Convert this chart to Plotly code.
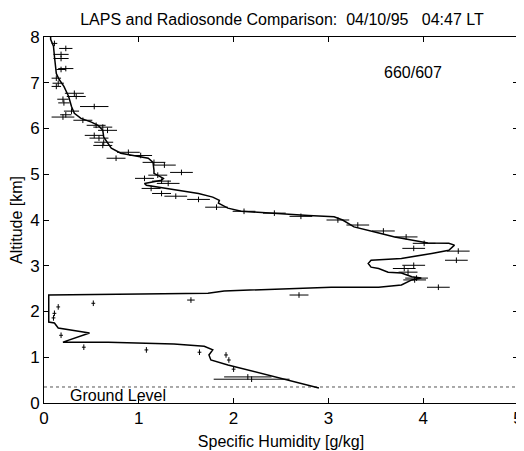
import plotly.graph_objects as go

# Radiosonde profile: specific humidity [g/kg] vs altitude [km]
rs_q = [2.90, 2.43, 1.94, 1.76, 1.74, 1.78, 1.69, 1.37, 0.68, 0.20, 0.48, 0.15, 0.11, 0.05, 0.05,
        1.02, 1.73, 1.90, 3.03, 3.53, 3.77, 3.88, 3.98, 3.88, 3.77, 3.63, 3.53, 3.45, 3.42, 3.45,
        3.77, 4.09, 4.27, 4.33, 4.27, 4.05, 3.88, 3.70, 3.49, 3.27, 3.15, 3.06, 2.79, 2.43, 2.08,
        1.94, 1.84, 1.85, 1.78, 1.63, 1.41, 1.20, 1.08, 1.06, 1.24, 1.26, 1.16, 1.16, 1.15, 1.10,
        0.95, 0.81, 0.71, 0.67, 0.63, 0.62, 0.57, 0.50, 0.39, 0.32, 0.29, 0.26, 0.21, 0.16, 0.13,
        0.11, 0.10, 0.07, 0.07]
rs_z = [0.33, 0.57, 0.83, 0.94, 1.05, 1.16, 1.24, 1.29, 1.33, 1.33, 1.53, 1.64, 1.75, 1.77, 2.36,
        2.38, 2.40, 2.45, 2.53, 2.53, 2.58, 2.69, 2.73, 2.76, 2.84, 2.86, 2.94, 2.97, 3.05, 3.12,
        3.16, 3.27, 3.34, 3.45, 3.49, 3.50, 3.56, 3.63, 3.74, 3.85, 4.00, 4.07, 4.10, 4.15, 4.19,
        4.26, 4.37, 4.43, 4.50, 4.58, 4.65, 4.72, 4.76, 4.80, 4.87, 4.91, 5.02, 5.09, 5.26, 5.35,
        5.41, 5.46, 5.57, 5.68, 5.81, 5.96, 6.07, 6.14, 6.22, 6.33, 6.48, 6.70, 6.92, 7.07, 7.20,
        7.58, 7.80, 7.95, 8.00]

# LAPS retrievals with horizontal uncertainty
laps_q = [0.11, 0.23, 0.18, 0.18, 0.23, 0.18, 0.13, 0.15, 0.13, 0.32, 0.34, 0.20, 0.21, 0.53,
          0.29, 0.23, 0.20, 0.41, 0.55, 0.62, 0.67, 0.53, 0.58, 0.63, 0.62, 0.89, 1.02, 0.76,
          1.16, 1.27, 1.45, 1.20, 1.06, 1.24, 1.31, 1.13, 1.24, 1.39, 1.63, 1.82, 2.11, 2.43,
          2.71, 3.10, 3.31, 3.58, 3.82, 4.01, 3.90, 4.37, 4.35, 3.90, 3.80, 3.84, 3.93, 4.16,
          3.91, 2.69, 1.55, 0.52, 0.15, 0.11, 0.10, 0.18, 0.42, 1.08, 1.64, 1.92, 1.95, 2.00,
          2.15, 2.19]
laps_z = [7.86, 7.75, 7.62, 7.53, 7.31, 7.29, 7.10, 6.99, 6.92, 6.77, 6.70, 6.64, 6.56, 6.48,
          6.38, 6.30, 6.25, 6.18, 6.07, 6.03, 5.96, 5.85, 5.79, 5.70, 5.63, 5.48, 5.41, 5.35,
          5.26, 5.20, 5.04, 4.98, 4.91, 4.85, 4.80, 4.69, 4.58, 4.52, 4.45, 4.28, 4.19, 4.15,
          4.08, 4.00, 3.89, 3.76, 3.63, 3.49, 3.38, 3.32, 3.12, 3.01, 2.94, 2.86, 2.73, 2.53,
          2.69, 2.36, 2.25, 2.18, 2.10, 1.96, 1.86, 1.48, 1.22, 1.16, 1.11, 1.05, 0.94, 0.74,
          0.57, 0.52]
laps_err = [0.03, 0.07, 0.08, 0.08, 0.08, 0.05, 0.05, 0.06, 0.05, 0.10, 0.10, 0.06, 0.06, 0.15,
            0.08, 0.06, 0.12, 0.10, 0.10, 0.10, 0.10, 0.10, 0.10, 0.10, 0.10, 0.12, 0.12, 0.10,
            0.12, 0.12, 0.12, 0.10, 0.10, 0.10, 0.12, 0.10, 0.10, 0.12, 0.12, 0.12, 0.12, 0.12,
            0.12, 0.12, 0.12, 0.12, 0.12, 0.12, 0.12, 0.12, 0.12, 0.12, 0.12, 0.10, 0.12, 0.12,
            0.12, 0.10, 0.04, 0.02, 0.02, 0.02, 0.02, 0.02, 0.02, 0.02, 0.02, 0.02, 0.02, 0.02,
            0.25, 0.40]

ground_level = 0.35
x_ticks = [0, 1, 2, 3, 4, 5]
y_ticks = [0, 1, 2, 3, 4, 5, 6, 7, 8]

FONT = "Liberation Sans, Arial, sans-serif"

fig = go.Figure()
fig.add_trace(go.Scatter(
    x=[0, 5], y=[ground_level, ground_level], mode="lines",
    line=dict(color="#555555", width=1, dash="dot"), hoverinfo="skip", showlegend=False))
fig.add_trace(go.Scatter(
    x=laps_q, y=laps_z, mode="markers",
    marker=dict(symbol="line-ns", size=4, line=dict(color="black", width=1)),
    error_x=dict(type="data", array=laps_err, color="black", thickness=1, width=0),
    showlegend=False))
fig.add_trace(go.Scatter(
    x=rs_q, y=rs_z, mode="lines",
    line=dict(color="black", width=1.5), showlegend=False))

fig.add_annotation(x=0.25, y=ground_level, text="Ground Level", showarrow=False,
                   xanchor="left", yanchor="top", yshift=2,
                   font=dict(family=FONT, size=16, color="black"))
fig.add_annotation(x=3.89, y=7.23, text="660/607", showarrow=False,
                   font=dict(family=FONT, size=16, color="black"))

axis_common = dict(showgrid=False, zeroline=False, showline=True, linecolor="black",
                   linewidth=1, mirror="ticks", ticks="inside", ticklen=5,
                   tickcolor="black", automargin=False, ticklabeloverflow="allow",
                   tickfont=dict(family=FONT, size=17, color="black"))
fig.update_xaxes(range=[0, 5], tickvals=x_ticks,
                 title=dict(text="Specific Humidity [g/kg]", standoff=8,
                            font=dict(family=FONT, size=16, color="black")),
                 **axis_common)
fig.update_yaxes(range=[0, 8], tickvals=y_ticks,
                 title=dict(text="Altitude [km]", standoff=4,
                            font=dict(family=FONT, size=16, color="black")),
                 **axis_common)

fig.update_layout(
    width=516, height=443,
    margin=dict(l=36, r=6, t=29, b=48),
    paper_bgcolor="white", plot_bgcolor="white",
    title=dict(text="LAPS and Radiosonde Comparison:  04/10/95   04:47 LT",
               x=0.531, xanchor="center", y=0.974, yanchor="middle",
               font=dict(family=FONT, size=16, color="black")),
)

fig.write_html("out.html")
